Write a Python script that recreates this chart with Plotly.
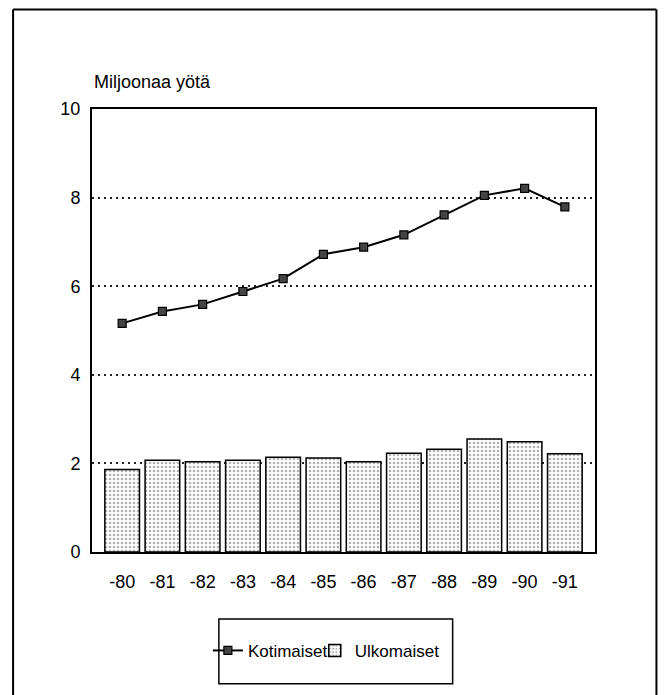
import plotly.graph_objects as go

years = ["-80", "-81", "-82", "-83", "-84", "-85", "-86", "-87", "-88", "-89", "-90", "-91"]
kotimaiset = [5.16, 5.43, 5.59, 5.88, 6.17, 6.72, 6.88, 7.16, 7.61, 8.05, 8.21, 7.79]
ulkomaiset = [1.86, 2.07, 2.04, 2.07, 2.14, 2.12, 2.04, 2.23, 2.32, 2.55, 2.49, 2.22]
y_ticks = [0, 2, 4, 6, 8, 10]

FONT = "Liberation Sans, Arial, sans-serif"
FS = 18

W, H = 665, 695
# plot area in page pixels
L, R, T, B = 92, 595.5, 108.5, 552
ml, mr, mt, mb = L, W - R, T, H - B
pw, ph = R - L, B - T

def px(x):
    return (x - L) / pw

def py(y):
    return (B - y) / ph

fig = go.Figure()
fig.add_trace(go.Bar(
    x=years, y=ulkomaiset, name="Ulkomaiset", legend="legend2",
    marker=dict(color="white", line=dict(color="black", width=1.5),
                pattern=dict(shape=".", fgcolor="#666666", bgcolor="white", size=4, solidity=0.35)),
))
fig.add_trace(go.Scatter(
    x=years, y=kotimaiset, name="Kotimaiset", legend="legend", mode="lines+markers",
    line=dict(color="black", width=2),
    marker=dict(symbol="square", size=8, color="#444444", line=dict(color="black", width=1.2)),
))

leg_common = dict(orientation="h", xanchor="left", y=py(651), yanchor="middle",
                  bgcolor="rgba(0,0,0,0)", borderwidth=0, font=dict(size=17, family=FONT),
                  itemwidth=30)

frame = dict(color="black", width=2)
TOP = 9
fig.update_layout(
    width=W, height=H,
    margin=dict(l=ml, r=mr, t=mt, b=mb, pad=0),
    paper_bgcolor="white", plot_bgcolor="white",
    font=dict(family=FONT, size=FS, color="black"),
    bargap=0.14,
    showlegend=True,
    legend=dict(x=px(208), **leg_common),
    legend2=dict(x=px(315), **leg_common),
    xaxis=dict(showgrid=False, showline=True, linecolor="black", linewidth=2, mirror=True,
               ticks="", ticklabelstandoff=12, tickfont=dict(size=FS, family=FONT)),
    yaxis=dict(range=[0, 10], tickvals=y_ticks, showgrid=True, gridcolor="#222222", gridwidth=1.5,
               griddash="2px,4px", showline=True, linecolor="black", linewidth=2, mirror=True,
               zeroline=False, ticks="", ticklabelstandoff=6, tickfont=dict(size=FS, family=FONT)),
    annotations=[dict(text="Miljoonaa yötä", xref="paper", yref="paper", x=0, y=py(81),
                      xanchor="left", yanchor="middle", showarrow=False,
                      font=dict(size=FS, family=FONT))],
    shapes=[
        dict(type="line", xref="paper", yref="paper", x0=px(13), x1=px(657), y0=py(TOP), y1=py(TOP),
             line=frame, layer="above"),
        dict(type="line", xref="paper", yref="paper", x0=px(13), x1=px(13), y0=py(TOP), y1=py(700),
             line=frame, layer="above"),
        dict(type="line", xref="paper", yref="paper", x0=px(657), x1=px(657), y0=py(TOP), y1=py(700),
             line=frame, layer="above"),
        dict(type="rect", xref="paper", yref="paper", x0=px(219), x1=px(453), y0=py(684), y1=py(619),
             line=dict(color="black", width=1.5), layer="above"),
    ],
)

fig.write_html("out.html", config={"displayModeBar": False},
               post_script="document.body.style.margin='0';document.body.style.padding='0';")
